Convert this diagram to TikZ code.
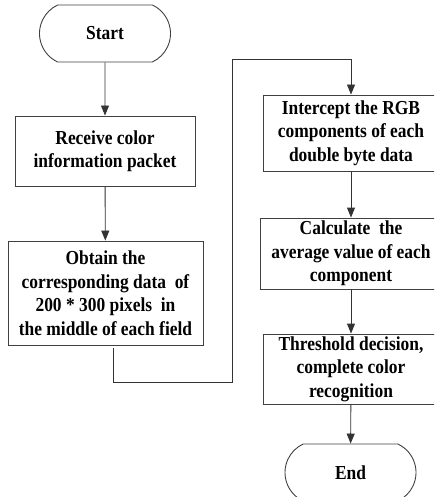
\documentclass[tikz,border=0pt]{standalone}
\usepackage{fontspec}
\setmainfont{Liberation Serif}[FakeStretch=0.88]
\usepackage{tikz}
\usetikzlibrary{shapes.misc,arrows.meta}

\begin{document}
\begin{tikzpicture}[x=1pt, y=-1pt,
		every node/.style={draw=black!75, line width=0.9pt, align=center, inner sep=0pt,
			font=\fontsize{19.8}{23.5}\selectfont\bfseries},
		term/.style={shape=rounded rectangle, rounded rectangle arc length=130,
			minimum width=131pt, minimum height=57pt},
		box/.style={shape=rectangle},
		arr/.style={draw=black!80, line width=0.9pt, -{Triangle[length=10pt,width=8pt]}}]
		\useasboundingbox (0,0) rectangle (434,497);
		\clip (0,0) rectangle (434,497);

		\path (105,33.5) node[term] (p0) {Start}
		(105,151) node[box, minimum width=180pt, minimum height=70pt] (p1) {Receive color\\information packet}
		(105.5,293) node[box, minimum width=195pt, minimum height=104pt] (p2) {Obtain the\\corresponding data ~of\\200 * 300 pixels ~in\\the middle of each field}
		(351,133) node[box, minimum width=176pt, minimum height=76pt] (p3) {Intercept the RGB\\components of each\\double byte data}
		(351,253.5) node[box, minimum width=182pt, minimum height=71pt] (p4) {Calculate ~the\\average value of each\\component}
		(351,369) node[box, minimum width=176pt, minimum height=70pt] (p5) {Threshold decision,\\complete color\\recognition}
		(350.5,472.5) node[term] (p6) {End};

		\coordinate (c1) at (232,382);
		\coordinate (c2) at (232,59);

		\draw[arr] (p0) -- (p1);
		\draw[arr] (p1) -- (p2);
		\draw[arr] ([xshift=7.5pt,yshift=-3pt]p2.south) |- (c1) -- (c2) -| (p3.north);
		\draw[arr] (p3) -- (p4);
		\draw[arr] (p4) -- (p5);
		\draw[arr] (p5) -- (p6);

	\end{tikzpicture}
\end{document}
